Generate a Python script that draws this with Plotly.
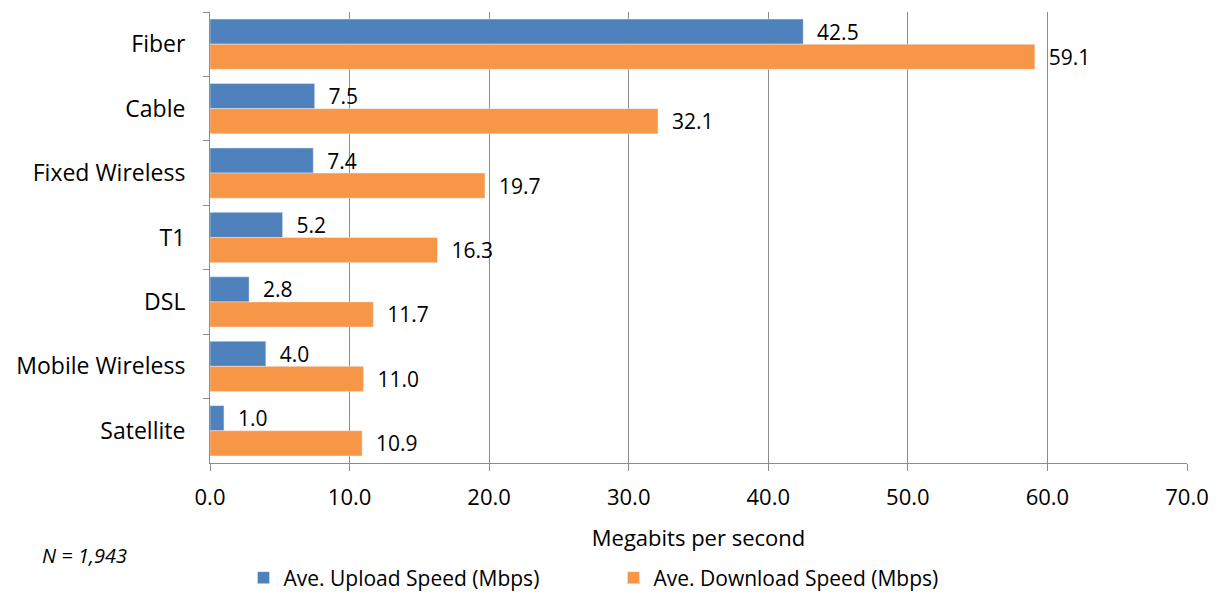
import plotly.graph_objects as go

categories = ["Fiber", "Cable", "Fixed Wireless", "T1", "DSL", "Mobile Wireless", "Satellite"]
upload = [42.5, 7.5, 7.4, 5.2, 2.8, 4.0, 1.0]
download = [59.1, 32.1, 19.7, 16.3, 11.7, 11.0, 10.9]
x_ticks = [0, 10, 20, 30, 40, 50, 60, 70]

font = "Open Sans"
pad = "\u00a0\u00a0"

fig = go.Figure()
fig.add_trace(go.Bar(
    y=categories, x=upload, orientation="h", name="Ave. Upload Speed (Mbps)",
    marker=dict(color="#4F81BD"),
    text=[f"{pad}{v:.1f}" for v in upload], textposition="outside",
    textfont=dict(family=font, size=21, color="#000"), cliponaxis=False,
    constraintext="none"
))
fig.add_trace(go.Bar(
    y=categories, x=download, orientation="h", name="Ave. Download Speed (Mbps)",
    marker=dict(color="#F79646"),
    text=[f"{pad}{v:.1f}" for v in download], textposition="outside",
    textfont=dict(family=font, size=21, color="#000"), cliponaxis=False,
    constraintext="none"
))

# page body adds an 8px offset, so the figure is sized to fill the rest of the window
fig.update_layout(
    width=1211, height=586,
    barmode="group", bargap=0.22, bargroupgap=0,
    plot_bgcolor="white", paper_bgcolor="white",
    margin=dict(l=202, r=32, t=4, b=131),
    font=dict(family=font, size=22, color="#000"),
    xaxis=dict(
        range=[0, 70], tickvals=x_ticks, ticktext=[f"{v:.1f}" for v in x_ticks],
        showgrid=True, gridcolor="#8c8c8c", gridwidth=1,
        showline=True, linecolor="#8c8c8c", linewidth=1,
        ticks="outside", ticklen=7, tickcolor="#8c8c8c", ticklabelstandoff=8,
        title=dict(text="Megabits per second", font=dict(size=22), standoff=20),
        zeroline=False, automargin=False
    ),
    yaxis=dict(
        autorange="reversed", showline=True, linecolor="#8c8c8c", linewidth=1,
        ticks="outside", ticklen=6, tickcolor="#8c8c8c", tickson="boundaries",
        showgrid=False, ticklabelstandoff=19, automargin=False,
        tickfont=dict(size=23)
    ),
    legend=dict(
        orientation="h", x=0.5, xanchor="center", xref="container",
        y=0.0273, yanchor="middle", yref="container", font=dict(size=21),
        itemwidth=30, traceorder="normal",
        entrywidth=325, entrywidthmode="pixels"
    ),
    showlegend=True,
)

fig.add_annotation(
    text="<i>N = 1,943</i>", xref="paper", yref="paper",
    x=-0.174, y=-0.206, xanchor="left", yanchor="middle",
    showarrow=False, font=dict(size=20)
)

fig.write_html("out.html")
